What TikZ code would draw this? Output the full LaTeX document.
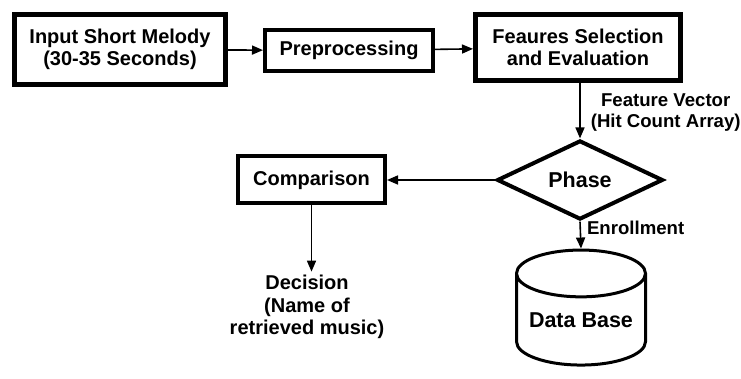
\documentclass[tikz,border=0pt]{standalone}
\usepackage{fontspec}
\setmainfont{Liberation Sans}
\usetikzlibrary{shapes.geometric,arrows.meta}

\newcommand{\boxfont}{\fontsize{20}{22.5}\selectfont\bfseries}
\newcommand{\bigfont}{\fontsize{21.5}{24}\selectfont\bfseries}
\newcommand{\labelfont}{\fontsize{18.6}{20.5}\selectfont\bfseries}

\begin{document}
\begin{tikzpicture}[x=1pt,y=-1pt]

\tikzset{mybox/.style={draw=black, line width=4pt, align=center, font=\boxfont, inner sep=0pt}}
\tikzset{mytext/.style={align=center, font=\boxfont}}
\tikzset{mylabel/.style={align=center, font=\labelfont, inner sep=0pt}}
\tikzset{myarrow/.style={line width=1.6pt, -{Triangle[length=11pt,width=9pt]}}}

\useasboundingbox (0,0) rectangle (741,379);

\node[mybox, line width=5pt, minimum width=211pt, minimum height=70pt] (input) at (120,49.5) {Input Short Melody\\(30-35 Seconds)};
\node[mybox, minimum width=168pt, minimum height=41pt] (prep) at (349,50.5) {Preprocessing};
\node[mybox, line width=5pt, minimum width=205pt, minimum height=66pt] (feat) at (578,47.5) {Feaures Selection\\and Evaluation};
\node[mybox, diamond, font=\bigfont, minimum width=166pt, minimum height=62pt] (phase) at (580,180) {Phase};
\node[mybox, minimum width=147pt, minimum height=47pt] (comp) at (311.5,180) {Comparison};
\node[mytext] (decision) at (307,307) {Decision\\(Name of\\retrieved music)};
\node[mybox, cylinder, shape border rotate=90, aspect=0.45, line width=3pt, font=\bigfont, minimum width=129pt, minimum height=115pt] (db) at (581,320) {Data Base};

% connectors
\draw[myarrow] (input) -- (prep);
\draw[myarrow] (prep) -- (feat);
\draw[myarrow] (feat.south -| phase.north) -- (phase.north) node[mylabel, midway, right, xshift=10pt, yshift=-2pt] {Feature Vector\\(Hit Count Array)};
\draw[myarrow] (phase.west) -- (phase.west -| comp.east);
\draw[myarrow] (phase.south) -- (db.north) node[mylabel, pos=0.25, right, xshift=6pt] {Enrollment};
\draw[myarrow] (comp) -- (comp |- decision.north);

\end{tikzpicture}
\end{document}
